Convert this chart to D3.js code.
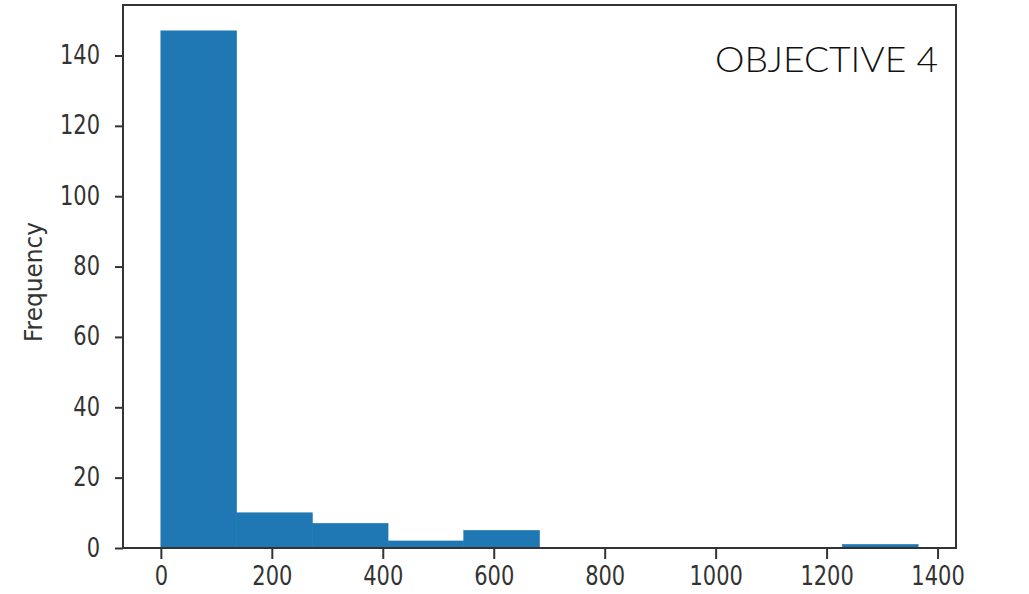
<!DOCTYPE html>
<html>
<head>
    <meta charset="utf-8">
    <style>
        body { margin: 0; background: #fff; }
        svg { display: block; }
        .tick text { font-family: 'DejaVu Sans', sans-serif; fill: #333; }
    </style>
</head>
<body>
<svg width="1029" height="594"></svg>

<script src="https://d3js.org/d3.v7.min.js"></script>
<script>
    // histogram
    let binEdges = [0, 136.5, 273, 409.5, 546, 682.5, 819, 955.5, 1092, 1228.5, 1365];
    let counts = [147, 10, 7, 2, 5, 0, 0, 0, 0, 1];
    let xTicks = [0, 200, 400, 600, 800, 1000, 1200, 1400];
    let yTicks = [0, 20, 40, 60, 80, 100, 120, 140];
    let yLabel = "Frequency";
    let title = "OBJECTIVE 4";

    let frame = {left: 123, right: 956, top: 5, bottom: 548};

    let svg = d3.select("svg");

    let xMin = binEdges[0], xMax = binEdges[binEdges.length - 1];
    let pad = (xMax - xMin) * 0.05;
    let x = d3.scaleLinear()
        .domain([xMin - pad, xMax + pad])
        .range([frame.left, frame.right]);

    let y = d3.scaleLinear()
        .domain([0, d3.max(counts) * 1.05])
        .range([frame.bottom, frame.top]);

    let bins = counts.map((c, i) => ({x0: binEdges[i], x1: binEdges[i + 1], n: c}));

    svg.append("g")
        .selectAll("rect")
        .data(bins.filter(d => d.n > 0))
        .join("rect")
        .attr("x", d => x(d.x0))
        .attr("width", d => x(d.x1) - x(d.x0))
        .attr("y", d => y(d.n))
        .attr("height", d => y(0) - y(d.n))
        .attr("fill", "#1f77b4")
        .attr("stroke", "#1f77b4")
        .attr("stroke-width", 0.6);

    // axes (text stretched vertically like the picture)
    let xAxis = svg.append("g")
        .attr("transform", `translate(0,${frame.bottom})`)
        .call(d3.axisBottom(x).tickValues(xTicks).tickSize(11).tickPadding(0).tickFormat(d3.format("d")));
    xAxis.selectAll("text")
        .attr("y", 0)
        .attr("dy", null)
        .attr("font-size", 21)
        .attr("transform", "translate(0,37) scale(1,1.3)");

    let yAxis = svg.append("g")
        .attr("transform", `translate(${frame.left},0)`)
        .call(d3.axisLeft(y).tickValues(yTicks).tickSize(8).tickPadding(0).tickFormat(d3.format("d")));
    yAxis.selectAll(".tick text")
        .attr("x", 0)
        .attr("dy", null)
        .attr("font-size", 21)
        .attr("transform", "translate(-23,8) scale(1,1.3)");

    svg.selectAll(".domain").remove();
    svg.selectAll(".tick line").attr("stroke", "#333").attr("stroke-width", 2);

    // frame
    svg.append("rect")
        .attr("x", frame.left)
        .attr("y", frame.top)
        .attr("width", frame.right - frame.left)
        .attr("height", frame.bottom - frame.top)
        .attr("fill", "none")
        .attr("stroke", "#333")
        .attr("stroke-width", 2);

    svg.append("text")
        .attr("transform", "translate(42,282) rotate(-90) scale(0.97,1)")
        .attr("text-anchor", "middle")
        .attr("font-family", "'DejaVu Sans', sans-serif")
        .attr("font-size", 24)
        .attr("fill", "#333")
        .text(yLabel);

    svg.append("text")
        .attr("x", 715)
        .attr("y", 72)
        .attr("font-family", "Lato, 'Open Sans', sans-serif")
        .attr("font-weight", 300)
        .attr("font-size", 36)
        .attr("textLength", 223)
        .attr("lengthAdjust", "spacingAndGlyphs")
        .attr("fill", "#111")
        .text(title);
</script>
</body>
</html>
